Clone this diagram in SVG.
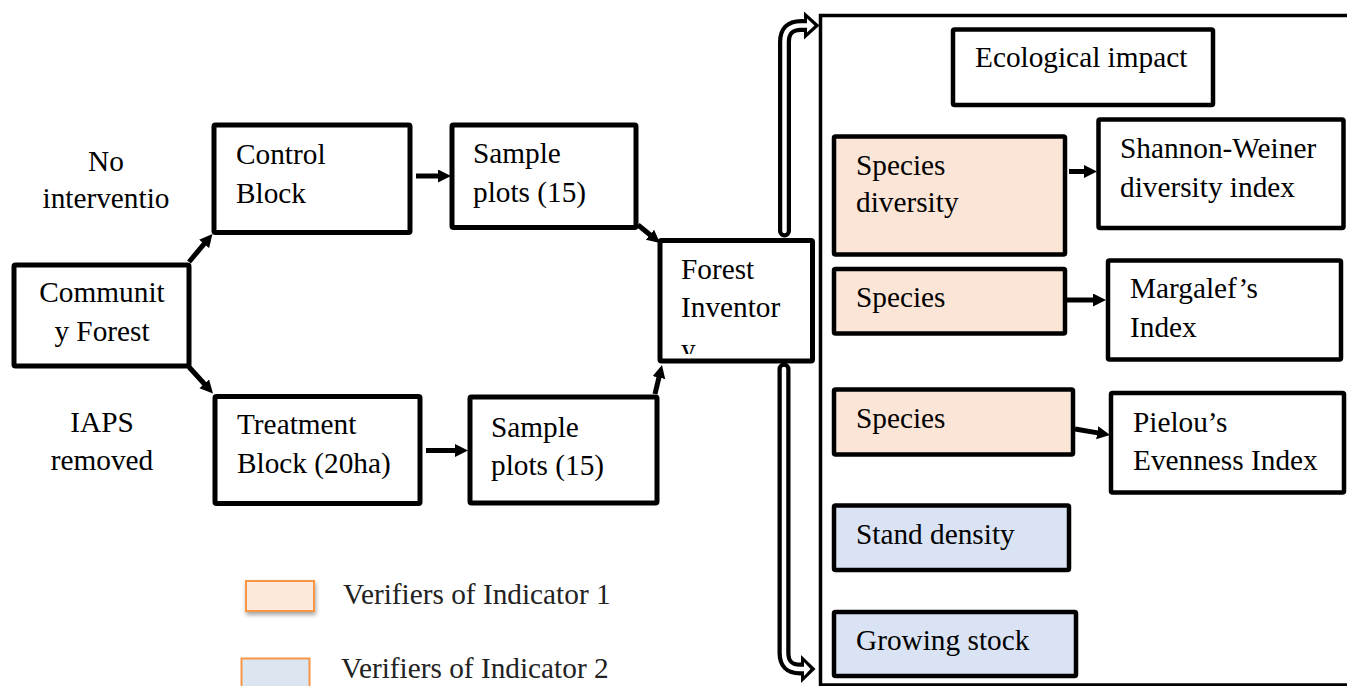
<svg xmlns="http://www.w3.org/2000/svg" width="1347" height="686" viewBox="0 0 1347 686">
<style>
  text { font-family: "Liberation Serif", "Times New Roman", serif; font-size: 29.3px; fill: #000; }
  .box { fill: #fff; stroke: #000; stroke-width: 5; }
  .rbox { fill: #fff; stroke: #000; stroke-width: 4.5; }
  .ind1 { fill: #FBE5D6; stroke: #000; stroke-width: 4.5; }
  .ind2 { fill: #DAE3F3; stroke: #000; stroke-width: 4.5; }
  .conn { stroke: #000; stroke-width: 5; fill: none; marker-end: url(#ah); }
  .legtext { fill: #222; }
  .mid { text-anchor: middle; }
</style>
<defs>
  <marker id="ah" markerUnits="userSpaceOnUse" markerWidth="14" markerHeight="14" refX="2" refY="6.5" orient="auto">
    <path d="M0,0 L13,6.5 L0,13 z" fill="#000"/>
  </marker>
  <clipPath id="fiClip"><rect x="660" y="240" width="152" height="114"/></clipPath>
  <filter id="shadow" x="-20%" y="-20%" width="150%" height="160%">
    <feDropShadow dx="1" dy="3" stdDeviation="2" flood-color="#000" flood-opacity="0.35"/>
  </filter>
</defs>

<g id="container">
  <rect x="820.5" y="15.5" width="600" height="669.5" fill="none" stroke="#000" stroke-width="3.5"/>
</g>

<g id="label-no-intervention">
  <text class="mid" x="106" y="171">No</text>
  <text class="mid" x="106" y="208">interventio</text>
</g>
<g id="label-iaps">
  <text class="mid" x="102" y="432">IAPS</text>
  <text class="mid" x="102" y="470">removed</text>
</g>

<g id="community-forest">
  <rect class="box" x="14" y="265" width="175" height="101" rx="1.5"/>
  <text class="mid" x="102" y="302">Communit</text>
  <text class="mid" x="102" y="341">y Forest</text>
</g>
<g id="control-block">
  <rect class="box" x="214" y="125" width="196" height="107.5" rx="1.5"/>
  <text x="236" y="164">Control</text>
  <text x="236" y="203">Block</text>
</g>
<g id="treatment-block">
  <rect class="box" x="215" y="396.5" width="205" height="107" rx="1.5"/>
  <text x="237" y="434">Treatment</text>
  <text x="237" y="473">Block (20ha)</text>
</g>
<g id="sample-plots-top">
  <rect class="box" x="452" y="125" width="184" height="102.5" rx="1.5"/>
  <text x="473" y="163">Sample</text>
  <text x="473" y="202">plots (15)</text>
</g>
<g id="sample-plots-bottom">
  <rect class="box" x="470" y="397" width="187" height="106" rx="1.5"/>
  <text x="491" y="437">Sample</text>
  <text x="491" y="475">plots (15)</text>
</g>
<g id="forest-inventory">
  <rect class="box" x="660" y="240.5" width="152.5" height="120.5" rx="1.5"/>
  <g clip-path="url(#fiClip)">
    <text x="681" y="279">Forest</text>
    <text x="681" y="317">Inventor</text>
    <text x="681" y="359">y</text>
  </g>
</g>

<g id="ecological-impact">
  <rect class="rbox" x="953" y="29.5" width="260" height="75.5" rx="1.5"/>
  <text x="975" y="67">Ecological impact</text>
</g>
<g id="species-diversity">
  <rect class="ind1" x="834" y="136.5" width="231" height="118" rx="1.5"/>
  <text x="856" y="175">Species</text>
  <text x="856" y="212">diversity</text>
</g>
<g id="shannon">
  <rect class="rbox" x="1098.5" y="119.5" width="245" height="108.5" rx="1.5"/>
  <text x="1120" y="158">Shannon-Weiner</text>
  <text x="1120" y="197">diversity index</text>
</g>
<g id="species-2">
  <rect class="ind1" x="834" y="269" width="231" height="64.5" rx="1.5"/>
  <text x="856" y="307">Species</text>
</g>
<g id="margalef">
  <rect class="rbox" x="1108" y="260.5" width="233" height="99" rx="1.5"/>
  <text x="1130" y="298">Margalef’s</text>
  <text x="1130" y="337">Index</text>
</g>
<g id="species-3">
  <rect class="ind1" x="834" y="389.5" width="239" height="65" rx="1.5"/>
  <text x="856" y="428">Species</text>
</g>
<g id="pielou">
  <rect class="rbox" x="1111" y="393" width="233" height="99.5" rx="1.5"/>
  <text x="1133" y="432">Pielou’s</text>
  <text x="1133" y="470">Evenness Index</text>
</g>
<g id="stand-density">
  <rect class="ind2" x="834" y="505.5" width="235" height="64.5" rx="1.5"/>
  <text x="856" y="544">Stand density</text>
</g>
<g id="growing-stock">
  <rect class="ind2" x="834" y="612" width="242" height="64" rx="1.5"/>
  <text x="856" y="650">Growing stock</text>
</g>

<g id="legend-1">
  <rect x="246" y="581" width="68" height="30" fill="#FDE9D9" stroke="#F79646" stroke-width="2" filter="url(#shadow)"/>
  <text class="legtext" x="343" y="604">Verifiers of Indicator 1</text>
</g>
<g id="legend-2">
  <rect x="241.5" y="658.5" width="68" height="40" fill="#DCE6F1" stroke="#F79646" stroke-width="2"/>
  <text class="legtext" x="341" y="678">Verifiers of Indicator 2</text>
</g>

<g id="connectors">
  <line class="conn" x1="189" y1="262" x2="205.4" y2="242.4"/>
  <line class="conn" x1="189" y1="367" x2="205.6" y2="385.3"/>
  <line class="conn" x1="416" y1="176" x2="440" y2="176"/>
  <line class="conn" x1="426" y1="450.5" x2="457" y2="450.5"/>
  <line class="conn" x1="638" y1="225" x2="651.5" y2="236"/>
  <line class="conn" x1="655" y1="394" x2="659.4" y2="375.7"/>
  <line class="conn" x1="1069" y1="171.5" x2="1086" y2="171.5"/>
  <line class="conn" x1="1067" y1="300" x2="1095" y2="300"/>
  <line class="conn" x1="1075" y1="429" x2="1099.2" y2="433.1"/>

  <g id="hollow-up">
    <path d="M784.5,231 V42 Q784.5,25.5 801,25.5 H808" fill="none" stroke="#000" stroke-width="13" stroke-linecap="round"/>
    <polygon points="804,11.5 819.5,25.5 804,39.5" fill="#000"/>
    <path d="M784.5,231 V42 Q784.5,25.5 801,25.5 H809" fill="none" stroke="#fff" stroke-width="4.5" stroke-linecap="round"/>
    <polygon points="807,18.5 814.5,25.5 807,32.5" fill="#fff"/>
  </g>
  <g id="hollow-down">
    <path d="M784,369 V653 Q784,669 800,669 H805" fill="none" stroke="#000" stroke-width="13" stroke-linecap="round"/>
    <polygon points="801,655 815.5,669 801,683" fill="#000"/>
    <path d="M784,369 V653 Q784,669 800,669 H806" fill="none" stroke="#fff" stroke-width="4.5" stroke-linecap="round"/>
    <polygon points="804,662 810.5,669 804,676" fill="#fff"/>
  </g>
</g>
</svg>
